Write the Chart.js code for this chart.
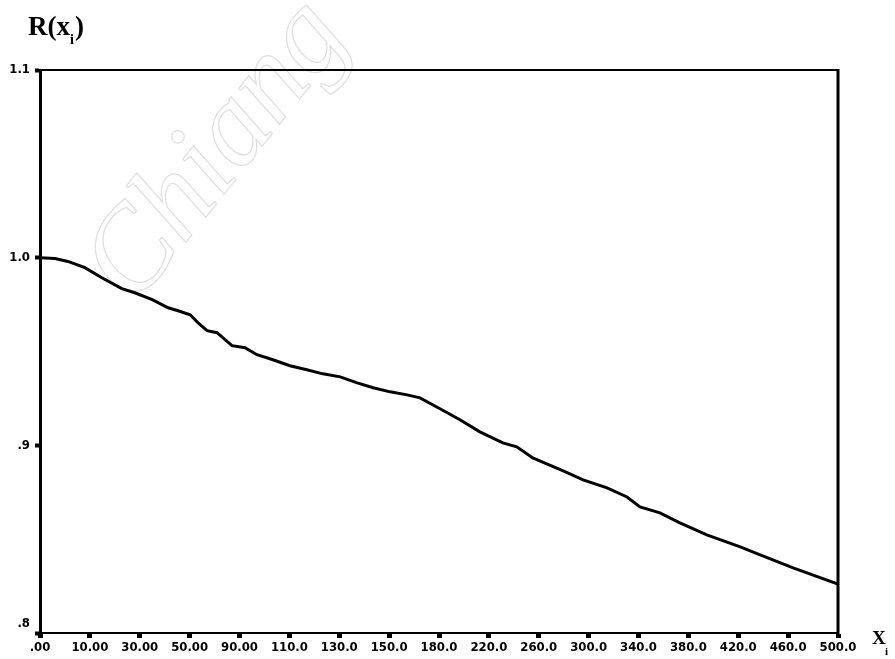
<!DOCTYPE html>
<html>
<head>
<meta charset="utf-8">
<script src="https://cdn.jsdelivr.net/npm/chart.js@4/dist/chart.umd.min.js"></script>
<style>
html,body{margin:0;padding:0;background:#fff;}
#c{display:block;}
</style>
</head>
<body>
<canvas id="c" width="895" height="659"></canvas>
<script>
// category tick labels along the x axis (SPSS-style category axis)
const tickLabels = ['.00','10.00','30.00','50.00','90.00','110.0','130.0','150.0','180.0','220.0','260.0','300.0','340.0','380.0','420.0','460.0','500.0'];
// y tick values and labels
const yTickValues = [0.8, 0.9, 1.0, 1.1];
const yTickLabels = ['.8', '.9', '1.0', '1.1'];
// curve: position along category axis (index units) and R(x_i) values
const pos = [0, 0.30, 0.56, 0.90, 1.24, 1.64, 1.90, 2.25, 2.57, 2.77, 3.01, 3.17, 3.35, 3.55, 3.71, 3.85, 4.11, 4.35, 4.67, 5.01, 5.35, 5.67, 6.02, 6.36, 6.68, 7.02, 7.36, 7.62, 8.02, 8.42, 8.82, 9.28, 9.56, 9.88, 10.49, 10.89, 11.37, 11.77, 12.03, 12.43, 12.83, 13.37, 14.04, 14.44, 15.10, 16.0];
const rValues = [1.000, 0.9995, 0.998, 0.9947, 0.9893, 0.9835, 0.9813, 0.9776, 0.9733, 0.9717, 0.9696, 0.9653, 0.9611, 0.9600, 0.9563, 0.9531, 0.9520, 0.9483, 0.9456, 0.9424, 0.9403, 0.9381, 0.9365, 0.9333, 0.9307, 0.9285, 0.9269, 0.9253, 0.9195, 0.9136, 0.9072, 0.9013, 0.8992, 0.8933, 0.8864, 0.8816, 0.8773, 0.8725, 0.8672, 0.8640, 0.8587, 0.8523, 0.8459, 0.8416, 0.8347, 0.8261];

const yTitle = {main: 'R(x', sub: 'i', end: ')'};
const xTitle = {main: 'X', sub: 'i'};
const watermark = 'Chiang';

const tickFont = {family: '"DejaVu Sans Condensed", "DejaVu Sans", sans-serif', size: 13, weight: 'bold'};

const extras = {
  id: 'extras',
  beforeDatasetsDraw(chart) {
    const ctx = chart.ctx;
    ctx.save();
    ctx.translate(218, 152);
    ctx.rotate(-0.9);
    ctx.font = 'italic 118px "Liberation Serif", serif';
    ctx.textAlign = 'center';
    ctx.textBaseline = 'middle';
    ctx.strokeStyle = '#dedede';
    ctx.lineWidth = 1.2;
    ctx.strokeText(watermark, 0, 0);
    ctx.restore();
  },
  afterDraw(chart) {
    const ctx = chart.ctx;
    const a = chart.chartArea;
    ctx.save();
    ctx.strokeStyle = '#000';
    ctx.lineWidth = 2;
    ctx.beginPath();
    ctx.moveTo(a.left, a.top);
    ctx.lineTo(a.right, a.top);
    ctx.stroke();
    ctx.lineWidth = 3;
    ctx.beginPath();
    ctx.moveTo(a.right, a.top - 1);
    ctx.lineTo(a.right, a.bottom + 1);
    ctx.stroke();
    // y title R(x_i)
    ctx.fillStyle = '#000';
    ctx.textBaseline = 'alphabetic';
    ctx.textAlign = 'left';
    ctx.font = 'bold 27px "Liberation Serif", serif';
    let x = 28;
    ctx.fillText(yTitle.main, x, 35);
    x += ctx.measureText(yTitle.main).width;
    ctx.font = 'bold 14px "Liberation Serif", serif';
    ctx.fillText(yTitle.sub, x, 44);
    x += ctx.measureText(yTitle.sub).width + 1;
    ctx.font = 'bold 27px "Liberation Serif", serif';
    ctx.fillText(yTitle.end, x, 35);
    // x title X_i
    ctx.font = 'bold 19px "Liberation Serif", serif';
    ctx.fillText(xTitle.main, 872, 644);
    ctx.font = 'bold 11px "Liberation Serif", serif';
    ctx.fillText(xTitle.sub, 885, 655);
    ctx.restore();
  }
};

new Chart(document.getElementById('c'), {
  type: 'line',
  data: {
    datasets: [{
      data: pos.map((p, i) => ({x: p, y: rValues[i]})),
      borderColor: '#000',
      borderWidth: 3,
      pointRadius: 0,
      tension: 0,
      fill: false
    }]
  },
  options: {
    responsive: false,
    animation: false,
    layout: {padding: {top: 70, right: 57, left: 0, bottom: 0}},
    plugins: {legend: {display: false}, tooltip: {enabled: false}},
    scales: {
      x: {
        type: 'linear',
        min: 0,
        max: tickLabels.length - 1,
        afterBuildTicks(s) { s.ticks = tickLabels.map((_, i) => ({value: i})); },
        afterFit(s) { s.height = 26; },
        ticks: {
          autoSkip: false,
          maxRotation: 0,
          padding: 2,
          color: '#000',
          font: tickFont,
          callback: (v) => tickLabels[Math.round(v)]
        },
        grid: {drawOnChartArea: false, drawTicks: true, tickLength: 5, tickWidth: 5, tickColor: '#000'},
        border: {display: true, color: '#000', width: 2}
      },
      y: {
        type: 'linear',
        min: 0.8,
        max: 1.1,
        afterBuildTicks(s) { s.ticks = yTickValues.map(v => ({value: v})); },
        afterFit(s) { s.width = 40; },
        ticks: {
          padding: 5,
          color: '#000',
          font: Object.assign({}, tickFont, {lineHeight: 1.5}),
          callback: (v, i) => {
            const lbl = yTickLabels[yTickValues.findIndex(t => Math.abs(t - v) < 1e-6)];
            return i === 0 ? [lbl, ''] : lbl;
          }
        },
        grid: {drawOnChartArea: false, drawTicks: true, tickLength: 5, tickWidth: 4, tickColor: '#000'},
        border: {display: true, color: '#000', width: 3}
      }
    }
  },
  plugins: [extras]
});
</script>
</body>
</html>
